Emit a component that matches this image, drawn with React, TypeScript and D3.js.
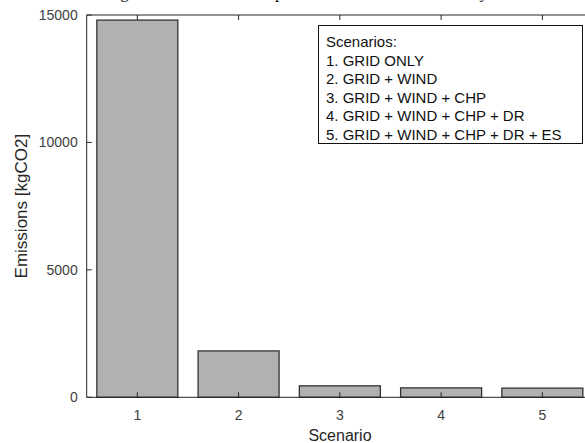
import React from "react";
import * as d3 from "d3";

const scenarios = [1, 2, 3, 4, 5];
const emissions = [14800, 1820, 450, 370, 360];
const yTicks = [0, 5000, 10000, 15000];
const legendLines = [
  "Scenarios:",
  "1. GRID ONLY",
  "2. GRID + WIND",
  "3. GRID + WIND + CHP",
  "4. GRID + WIND + CHP + DR",
  "5. GRID + WIND + CHP + DR + ES",
];
const titleText = "Figure 5. Emissions comparison in the whole case study";

const W = 585;
const H = 443;
const left = 86.7;
const right = 593;
const top = 15;
const bottom = 397.3;

export default function App() {
  const x = d3.scaleLinear().domain([0.5, 5.5]).range([left, right]);
  const y = d3.scaleLinear().domain([0, 15000]).range([bottom, top]);
  const bw = x(1.4) - x(0.6);
  const axisColor = "#262626";
  const font = "'Liberation Sans', Arial, sans-serif";
  return (
    <svg
      width={W}
      height={H}
      style={{ position: "absolute", left: 0, top: 0, background: "#fff" }}
      fontFamily={font}
    >
      <rect x={0} y={0} width={W} height={H} fill="#fff" />
      <text
        x={297}
        y={-2}
        textAnchor="middle"
        fontFamily="'Liberation Serif', 'Times New Roman', serif"
        fontSize={17}
        fill="#111"
      >
        {titleText}
      </text>
      {scenarios.map((s, i) => (
        <rect
          key={s}
          x={x(s) - bw / 2}
          y={y(emissions[i])}
          width={bw}
          height={bottom - y(emissions[i])}
          fill="#b1b1b1"
          stroke="#333"
          strokeWidth={1.3}
        />
      ))}
      <path
        d={`M${right},${top}H${left}V${bottom}H${right}`}
        fill="none"
        stroke={axisColor}
        strokeWidth={1}
      />
      {yTicks.map((t) => (
        <g key={t}>
          <line x1={left} x2={left + 5} y1={y(t)} y2={y(t)} stroke={axisColor} />
          <text
            x={left - 9}
            y={y(t)}
            dy="0.35em"
            textAnchor="end"
            fontSize={14}
            fill="#404040"
          >
            {t}
          </text>
        </g>
      ))}
      {scenarios.map((s) => (
        <g key={s}>
          <line x1={x(s)} x2={x(s)} y1={bottom} y2={bottom - 5} stroke={axisColor} />
          <line x1={x(s)} x2={x(s)} y1={top} y2={top + 5} stroke={axisColor} />
          <text x={x(s)} y={420} textAnchor="middle" fontSize={14} fill="#404040">
            {s}
          </text>
        </g>
      ))}
      <text x={340} y={441} textAnchor="middle" fontSize={16} fill="#262626">
        Scenario
      </text>
      <text
        transform={`translate(27,${(top + bottom) / 2}) rotate(-90)`}
        textAnchor="middle"
        fontSize={17}
        fill="#262626"
      >
        Emissions [kgCO2]
      </text>
      <rect x={318.5} y={25.5} width={264} height={118} fill="#fff" stroke="#111" strokeWidth={1} />
      {legendLines.map((l, i) => (
        <text key={i} x={326} y={47 + i * 18.5} fontSize={15} fill="#111">
          {l}
        </text>
      ))}
    </svg>
  );
}
